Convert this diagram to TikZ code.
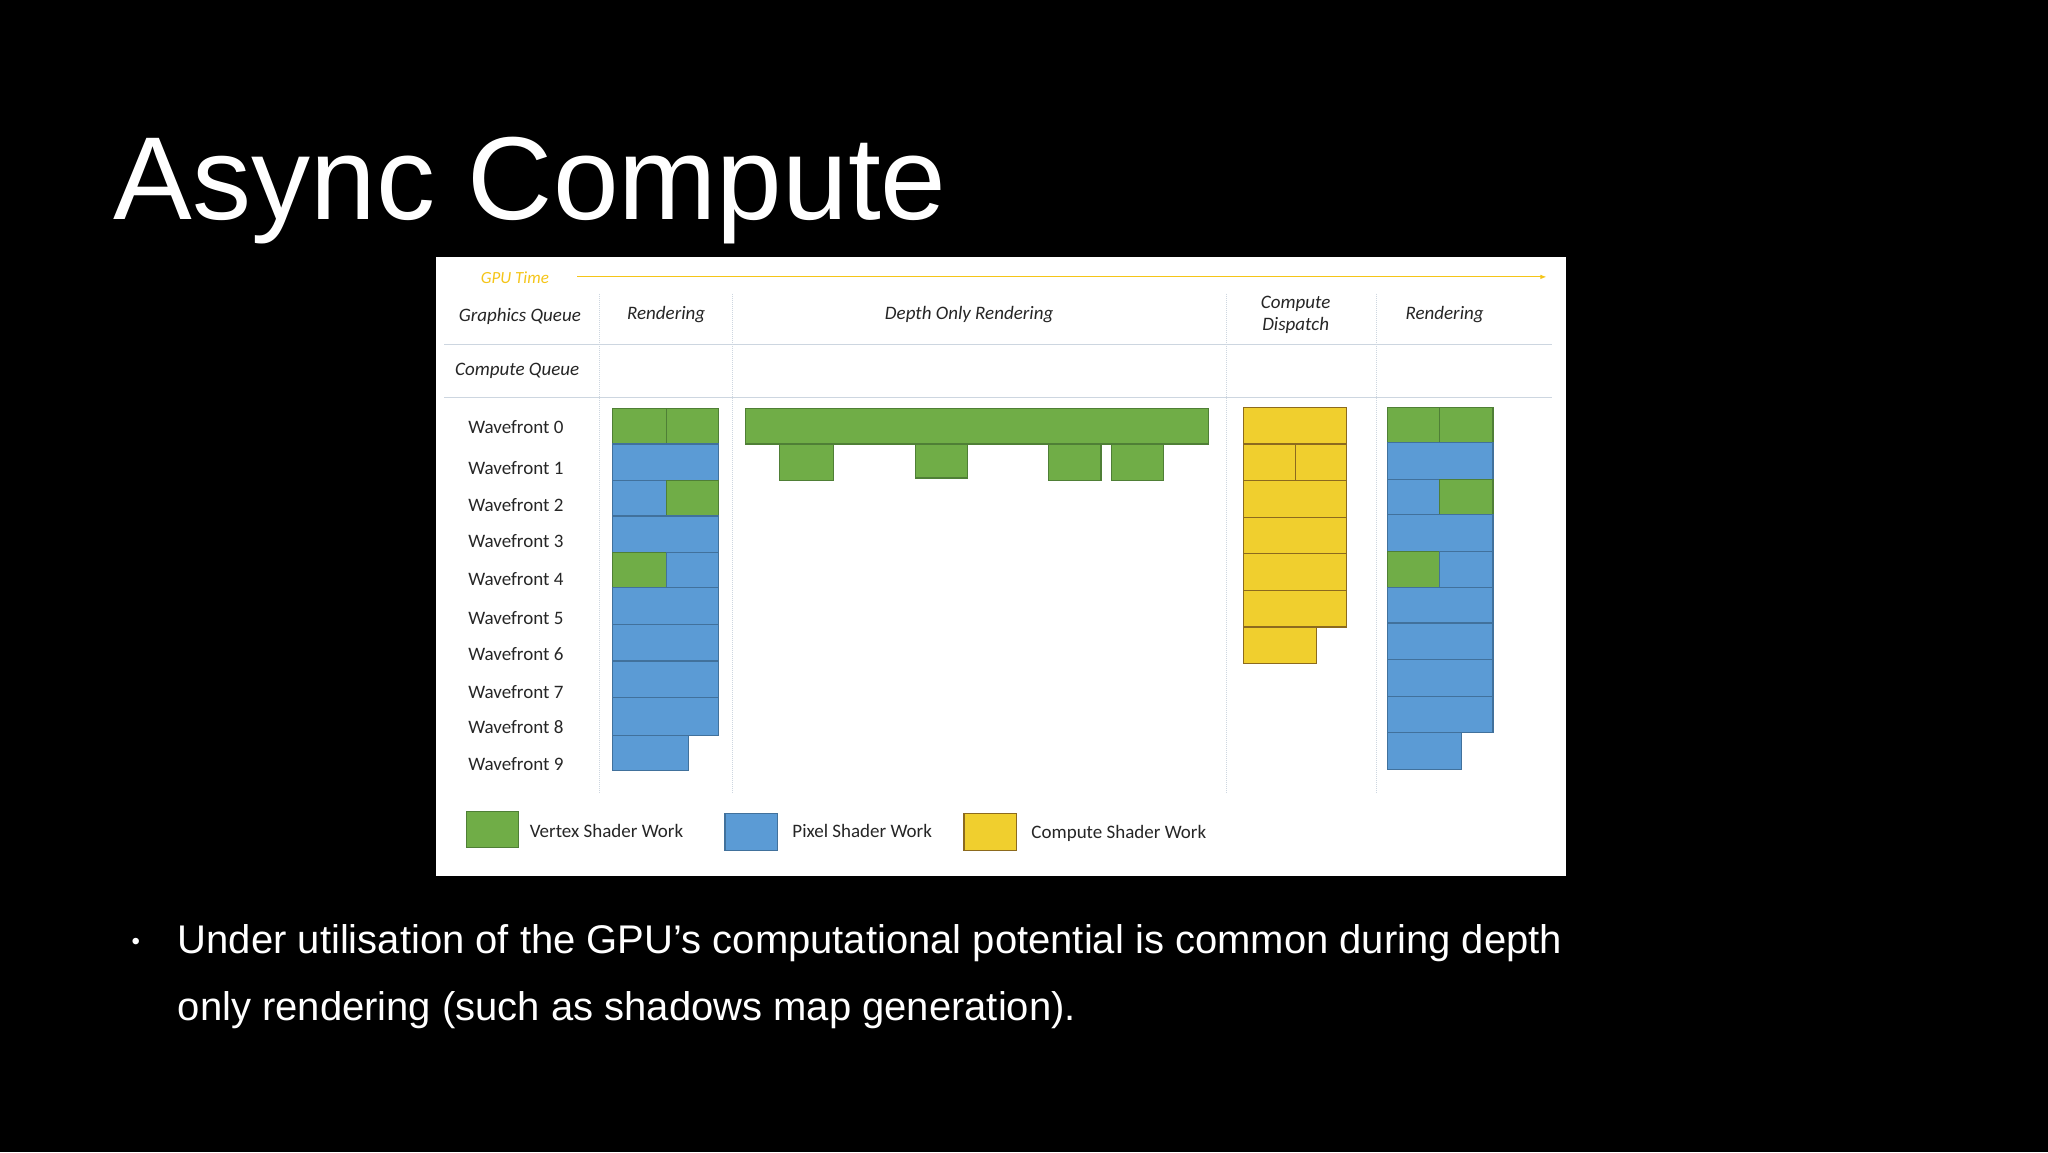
\documentclass[tikz,border=0pt]{standalone}
\usepackage{fontspec}
\setmainfont{Liberation Sans}
\newfontfamily\calib{Carlito}
\usetikzlibrary{arrows.meta}
\definecolor{vgreen}{HTML}{70AD47}
\definecolor{vgreenb}{HTML}{4F7F36}
\definecolor{pblue}{HTML}{5B9BD5}
\definecolor{pblueb}{HTML}{41719C}
\definecolor{cyel}{HTML}{F0CF2E}
\definecolor{cyelb}{HTML}{8C6A1E}
\definecolor{gtime}{HTML}{F5C518}
\definecolor{rule}{HTML}{CDD6E0}
\tikzset{
  vs/.style={fill=vgreen,draw=vgreenb,line width=1.2pt},
  ps/.style={fill=pblue,draw=pblueb,line width=1.2pt},
  cs/.style={fill=cyel,draw=cyelb,line width=1.2pt},
  lab/.style={font=\calib\fontsize{19}{21}\selectfont,text=black!85},
  hd/.style={font=\calib\itshape\fontsize{19}{22}\selectfont,text=black!85,align=center},
  sep/.style={draw=rule,line width=1pt},
  vdot/.style={draw=rule,line width=1pt,densely dotted},
}
\newcommand{\bx}[5]{\path[#5] (#1,#2) rectangle (#3,#4);}
\begin{document}
\begin{tikzpicture}[x=1.30612pt,y=-1.30612pt]
\useasboundingbox (0,0) rectangle (1568,882);
\fill[black] (0,0) rectangle (1568,882);
\node[anchor=base west,text=white,inner sep=0,font=\fontsize{118}{120}\selectfont] (title) at (87,168) {Async Compute};
% panel
\fill[white] (334,197) rectangle (1199,671);
\node[anchor=base west,inner sep=0,font=\calib\itshape\fontsize{17}{19}\selectfont,text=gtime] (gt) at (368,217) {GPU Time};
\coordinate (a1) at (442,212); \coordinate (a2) at (1184,212);
\draw[gtime,line width=1pt,-{Latex[length=6pt]}] (a1) -- (a2);
\node[hd] (gq) at (398,242) {Graphics Queue};
\node[hd] (r1) at (510,241) {Rendering};
\node[hd] (dor) at (742,241) {Depth Only Rendering};
\node[hd] (cd) at (992,241) {Compute\\Dispatch};
\node[hd] (r2) at (1106,241) {Rendering};
\node[hd] (cq) at (396,284) {Compute Queue};
\draw[sep] (340,264) -- (1188,264);
\draw[sep] (340,304) -- (1188,304);
\foreach \x in {459,561,939,1054} \draw[vdot] (\x,225) -- (\x,607);
\foreach \i/\y in {0/327,1/358,2/387,3/414,4/443,5/473,6/501,7/530,8/557,9/585}
  \node[lab] (wf\i) at (395,\y) {Wavefront \i};
% left rendering
\bx{469}{313}{510}{340}{vs}\bx{510}{313}{550}{340}{vs}
\bx{469}{340}{550}{368}{ps}
\bx{469}{368}{510}{395}{ps}\bx{510}{368}{550}{395}{vs}
\bx{469}{395}{550}{423}{ps}
\bx{469}{423}{510}{450}{vs}\bx{510}{423}{550}{450}{ps}
\bx{469}{450}{550}{478}{ps}
\bx{469}{478}{550}{506}{ps}
\bx{469}{506}{550}{534}{ps}
\bx{469}{534}{550}{563}{ps}
\bx{469}{563}{527}{590}{ps}
% depth
\bx{571}{313}{925}{340}{vs}
\bx{597}{340}{638}{368}{vs}
\bx{701}{340}{741}{366}{vs}
\bx{803}{340}{843}{368}{vs}
\bx{851}{340}{891}{368}{vs}
% compute
\bx{952}{312}{1031}{340}{cs}
\bx{952}{340}{992}{368}{cs}\bx{992}{340}{1031}{368}{cs}
\bx{952}{368}{1031}{396}{cs}
\bx{952}{396}{1031}{424}{cs}
\bx{952}{424}{1031}{452}{cs}
\bx{952}{452}{1031}{480}{cs}
\bx{952}{480}{1008}{508}{cs}
% right rendering
\bx{1062}{312}{1102}{339}{vs}\bx{1102}{312}{1143}{339}{vs}
\bx{1062}{339}{1143}{367}{ps}
\bx{1062}{367}{1102}{394}{ps}\bx{1102}{367}{1143}{394}{vs}
\bx{1062}{394}{1143}{422}{ps}
\bx{1062}{422}{1102}{450}{vs}\bx{1102}{422}{1143}{450}{ps}
\bx{1062}{450}{1143}{477}{ps}
\bx{1062}{477}{1143}{505}{ps}
\bx{1062}{505}{1143}{533}{ps}
\bx{1062}{533}{1143}{561}{ps}
\bx{1062}{561}{1119}{589}{ps}
% legend
\bx{357}{621}{397}{649}{vs}
\node[lab,anchor=west] (l1) at (403,636) {Vertex Shader Work};
\bx{555}{623}{595}{651}{ps}
\node[lab,anchor=west] (l2) at (604,636) {Pixel Shader Work};
\bx{738}{623}{778}{651}{cs}
\node[lab,anchor=west] (l3) at (787,638) {Compute Shader Work};
% bullet
\node[anchor=base,text=white,font=\fontsize{24}{24}\selectfont] (bul) at (104,727) {•};
\node[anchor=base west,inner sep=0,text=white,font=\fontsize{40}{50}\selectfont] (b1) at (136,730) {Under utilisation of the GPU’s computational potential is common during depth};
\node[anchor=base west,inner sep=0,text=white,font=\fontsize{40}{50}\selectfont] (b2) at (136,781) {only rendering (such as shadows map generation).};
\end{tikzpicture}
\end{document}
